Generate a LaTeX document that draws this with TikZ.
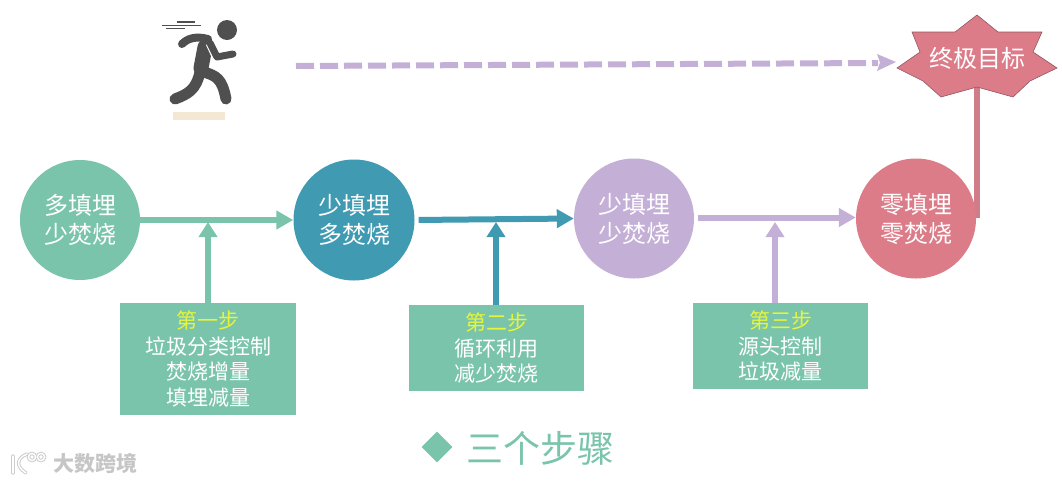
\documentclass[tikz,border=0pt]{standalone}
\usepackage{fontspec}
\setmainfont{Noto Sans CJK SC}
\usetikzlibrary{arrows.meta,shapes.geometric}
\definecolor{teal1}{HTML}{7BC4AC}
\definecolor{blue1}{HTML}{3F9AB2}
\definecolor{purp1}{HTML}{C4AFD6}
\definecolor{rose1}{HTML}{DC7C88}
\definecolor{rosel}{HTML}{CE7D89}
\definecolor{runner}{HTML}{4F4F4F}
\definecolor{beige}{HTML}{F3E8D4}
\definecolor{ttl}{HTML}{E6F53C}
\tikzset{
 circ/.style={circle,minimum size=120pt,inner sep=0pt,text=white,font=\fontsize{24}{29}\selectfont,align=center},
 stepbox/.style={fill=teal1,anchor=north west,inner sep=0pt,text=white,font=\fontsize{21}{25.5}\selectfont,align=center},
 flow/.style={line width=6pt,-{Triangle[length=17pt,width=18pt]}},
 rise/.style={line width=6pt,-{Triangle[length=15pt,width=18pt]}},
 limb/.style={runner,line width=11pt,line cap=round,line join=round},
 wmark/.style={gray!40,line width=3.4pt,line cap=round},
 wmin/.style={white,line width=1.4pt,line cap=round},
}
\newcommand{\stepttl}[1]{\textcolor{ttl}{#1}}
\begin{document}
\begin{tikzpicture}[x=1pt,y=-1pt]
\useasboundingbox (0,0) rectangle (1062,483);
% runner
\fill[runner] (227,30) circle (10);
\draw[runner,line width=1.8pt] (177,22) -- (195,22);
\draw[runner,line width=.8pt] (162,25) -- (201,25);
\draw[runner,line width=.8pt] (166,28) -- (185,28);
\draw[limb,line width=8pt] (182,44) .. controls (188,38) and (196,36) .. (208,39);
\draw[limb,line width=15pt] (205,47) -- (201,68);
\draw[limb] (200,72) .. controls (196,90) and (188,94) .. (175,99);
\draw[limb] (204,72) .. controls (216,76) and (222,78) .. (226,99);
\draw[white,line width=9pt,line join=round] (210,43) -- (216,56);
\draw[limb,line width=7pt] (210,43) -- (217,57) -- (233,54);
\fill[beige] (173,112) rectangle (225,120);
% connectors below the nodes
\draw[rosel,line width=6pt] (977,85) -- (977,218);
\coordinate (dashstart) at (296,66);
\coordinate (dashend) at (896,62);
\draw[purp1,line width=6pt,dash pattern=on 18pt off 6pt] (dashstart) -- (878,63);
\fill[purp1] (dashend) -- (877,54) -- (880,62.5) -- (877,71) -- cycle;
% nodes
\node[circ,fill=teal1] (c1) at (80,220) {多填埋\\少焚烧};
\node[circ,fill=blue1,minimum size=121pt] (c2) at (354,220) {少填埋\\多焚烧};
\node[circ,fill=purp1] (c3) at (634,218.5) {少填埋\\少焚烧};
\node[circ,fill=rose1] (c4) at (916,218.5) {零填埋\\零焚烧};
\node[stepbox,minimum width=176pt,minimum height=112pt] (b1) at (120,303) {\stepttl{第一步}\\垃圾分类控制\\焚烧增量\\填埋减量};
\node[stepbox,minimum width=175pt,minimum height=86pt] (b2) at (409,305) {\stepttl{第二步}\\循环利用\\减少焚烧};
\node[stepbox,minimum width=175pt,minimum height=86pt] (b3) at (693,303) {\stepttl{第三步}\\源头控制\\垃圾减量};
% goal star
\filldraw[fill=rose1,draw=rosel!70!black,line width=.6pt] (977,15) -- (998,32) -- (1042,32) -- (1033,52) -- (1057,68) -- (1030,81) -- (1013,97) -- (977,87) -- (941,97) -- (923,81) -- (897,68) -- (920,52) -- (912,32) -- (955,32) -- cycle;
\node[text=white,font=\fontsize{24}{29}\selectfont,inner sep=0pt] (goal) at (977,58) {终极目标};
% flows
\draw[flow,teal1] (c1.east) -- (c2.west);
\draw[flow,blue1,shorten <=4pt] (c2.east) -- (c3.west -| c3.west);
\draw[flow,purp1,shorten <=4pt] ([yshift=1pt]c3.east) -- ([yshift=1pt]c4.west);
\coordinate (p1) at (208,222);
\coordinate (p2) at (496,222);
\coordinate (p3) at (775,222);
\draw[rise,teal1] (b1.north -| p1) -- (p1);
\draw[rise,blue1] (b2.north -| p2) -- (p2);
\draw[rise,purp1] (b3.north -| p3) -- (p3);
% title
\node[diamond,fill=teal1,minimum size=31pt,inner sep=0pt] (dm) at (437,447) {};
\node[text=teal1,font=\fontsize{37}{42}\selectfont,anchor=west,inner sep=0pt] (title) at (466,448) {三个步骤};
% watermark
\foreach \s in {wmark,wmin}{
\draw[\s] (13,456) -- (13,473);
\draw[\s] (27,454) .. controls (17,458) and (15,466) .. (26,473);
\draw[\s] (32,457) circle (3.6);
\draw[\s] (41,457) circle (3.6);
}
\node[text=gray!45,font=\fontsize{21}{24}\bfseries\selectfont,anchor=west,inner sep=0pt] (wm) at (53,463) {大数跨境};
\end{tikzpicture}
\end{document}
